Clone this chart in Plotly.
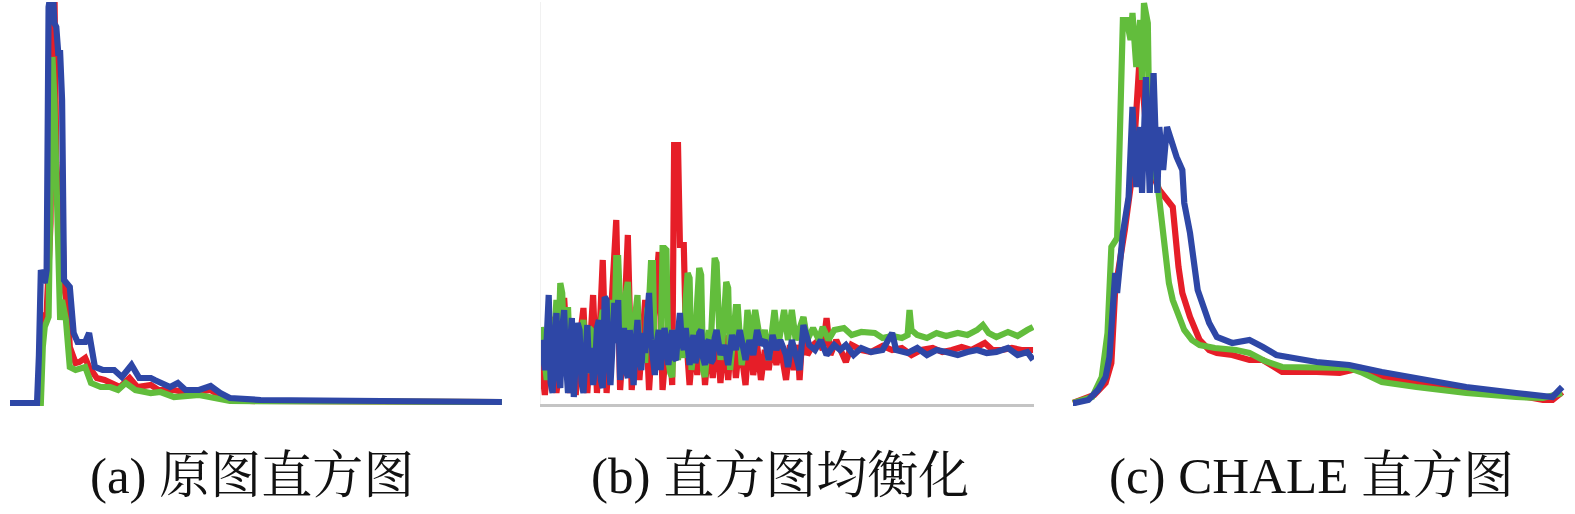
import plotly.graph_objects as go

# ---------------- data: (gray level, histogram height) ----------------
# (a) original histogram
a_red = [(0,0),(15,0),(16,40),(17,85),(19,90),(20,140),(21,180),(22,420),(23,420),(24,240),
         (25,206),(27,196),(28,116),(29,106),(30,90),(31,56),(34,40),(36,41),(39,45),(41,36),
         (45,25),(49,23),(53,20),(57,16),(62,25),(66,16),(73,18),(77,13),(85,13),(93,10),
         (104,13),(111,5),(124,2),(202,1),(255,1)]
a_green = [(0,0),(16,0),(17,56),(18,76),(20,86),(21,246),(22,346),(23,303),(24,203),(26,83),
           (27,103),(29,83),(31,36),(34,33),(39,36),(42,20),(47,16),(52,16),(56,13),(60,20),
           (65,13),(73,10),(78,11),(85,6),(98,8),(106,5),(114,2),(255,1)]
a_blue = [(0,0),(14,0),(15,48),(16,133),(18,120),(19,133),(20,396),(21,420),(22,420),(23,380),
          (24,376),(25,350),(26,350),(27,303),(28,123),(31,116),(33,70),(35,61),(39,61),(41,70),
          (44,36),(48,33),(54,33),(58,26),(63,38),(67,25),(73,25),(75,23),(78,20),(83,16),
          (87,20),(91,13),(98,13),(104,17),(109,10),(114,5),(130,3),(166,2),(202,1),(255,1)]

# (b) histogram equalization
b_red = [(0,43),(2,8),(5,73),(6,86),(8,10),(10,43),(12,105),(15,10),(17,58),(18,8),(20,63),(22,95),
         (24,10),(26,73),(27,108),(29,10),(31,103),(32,143),(34,10),(36,73),(39,183),(41,13),(43,73),
         (45,168),(47,13),(49,63),(51,23),(54,103),(56,13),(58,73),(61,151),(63,13),(66,83),(68,18),
         (69,258),(71,258),(72,158),(74,158),(75,73),(77,18),(79,63),(81,28),(83,83),(85,18),(87,63),
         (89,25),(91,70),(93,20),(95,68),(97,23),(99,73),(101,25),(103,63),(106,18),(108,73),(110,28),
         (112,58),(114,23),(116,53),(118,33),(120,63),(122,38),(124,58),(127,23),(129,58),(131,33),
         (133,58),(134,23),(136,85),(138,48),(141,58),(144,63),(146,53),(148,85),(150,48),(153,63),
         (156,48),(158,41),(161,58),(166,53),(171,51),(177,57),(182,53),(187,55),(192,48),(197,53),
         (203,55),(208,51),(213,53),(218,56),(223,53),(230,60),(234,53),(239,53),(244,55),(249,53),
         (255,53)]
b_green = [(0,76),(1,50),(2,40),(3,23),(4,45),(5,63),(6,40),(7,70),(8,103),(9,60),(10,120),(11,110),
           (12,50),(13,73),(14,96),(15,45),(16,33),(17,55),(18,63),(19,35),(20,43),(21,70),(22,83),
           (23,40),(24,30),(25,75),(26,73),(27,33),(28,73),(29,45),(30,53),(31,80),(32,93),(33,50),
           (34,63),(35,40),(36,85),(37,103),(38,60),(39,145),(40,145),(41,73),(42,45),(43,53),(44,110),
           (45,121),(46,63),(47,40),(48,73),(49,95),(50,108),(51,50),(52,43),(53,63),(54,40),(55,93),
           (56,100),(57,140),(58,140),(59,33),(60,45),(61,73),(62,40),(63,155),(64,155),(65,153),
           (66,43),(67,30),(68,26),(69,73),(70,60),(71,43),(72,80),(73,60),(74,45),(75,103),(76,130),
           (77,125),(78,33),(79,50),(80,63),(81,103),(82,135),(83,128),(84,33),(85,26),(86,45),(87,73),
           (88,60),(89,110),(90,145),(91,140),(92,73),(93,43),(94,60),(95,100),(96,121),(97,115),
           (98,33),(99,53),(100,70),(101,96),(102,96),(103,50),(104,38),(106,63),(107,93),(109,63),
           (111,93),(114,58),(116,73),(118,43),(120,83),(121,93),(123,58),(126,93),(128,63),(130,93),
           (132,63),(134,73),(136,86),(138,63),(141,75),(144,63),(146,76),(149,63),(152,73),(157,75),
           (161,68),(166,71),(173,70),(177,65),(182,67),(187,65),(190,68),(191,93),(192,73),(195,68),
           (200,65),(205,70),(210,67),(216,70),(221,68),(226,73),(229,78),(232,70),(236,66),(242,71),
           (247,67),(252,73),(255,76)]
b_blue = [(0,63),(1,40),(2,33),(3,66),(4,108),(5,20),(6,10),(7,60),(8,90),(9,30),(10,15),(11,75),
          (12,93),(13,40),(14,10),(15,55),(16,85),(17,6),(18,40),(19,80),(20,73),(21,20),(22,10),
          (23,60),(24,78),(25,30),(26,55),(27,18),(28,35),(29,75),(30,83),(31,23),(32,15),(33,106),
          (34,103),(35,40),(36,18),(37,55),(38,100),(39,60),(40,103),(41,23),(42,45),(43,75),(44,33),
          (45,25),(46,73),(47,40),(48,18),(49,60),(50,83),(51,45),(52,33),(53,70),(54,50),(55,85),
          (56,110),(57,63),(58,40),(59,28),(60,60),(61,73),(62,33),(63,50),(64,75),(65,63),(66,38),
          (67,55),(68,73),(69,45),(70,43),(71,70),(72,90),(73,60),(74,53),(75,75),(76,45),(77,38),
          (78,55),(79,68),(80,40),(81,48),(82,70),(83,73),(84,45),(85,38),(86,60),(87,63),(88,40),
          (89,43),(90,65),(91,73),(93,48),(95,58),(97,38),(99,68),(101,53),(103,73),(106,43),(108,63),
          (110,48),(112,73),(114,58),(116,63),(118,43),(120,68),(122,53),(124,63),(127,48),(128,36),
          (130,63),(132,48),(134,33),(136,78),(139,58),(142,53),(145,63),(148,48),(152,58),(155,53),
          (158,58),(162,48),(166,55),(171,51),(177,53),(182,70),(184,53),(190,50),(195,55),(200,48),
          (205,53),(210,51),(216,48),(221,51),(226,53),(231,50),(236,51),(242,55),(247,48),(252,51),
          (255,43)]

# (c) CHALE histogram
c_red = [(0,0),(11,8),(17,20),(20,40),(22,113),(24,136),(27,173),(31,230),(35,353),(37,300),
         (40,236),(45,213),(49,203),(52,196),(55,136),(57,110),(61,86),(66,63),(71,53),(75,50),
         (83,48),(92,43),(99,43),(109,31),(127,31),(139,30),(150,35),(161,26),(179,20),(205,13),
         (231,8),(245,3),(250,3),(255,11)]
c_green = [(0,0),(10,6),(15,26),(18,70),(20,156),(23,165),(26,383),(28,383),(30,363),(31,390),
           (33,336),(35,383),(36,323),(37,400),(39,380),(40,250),(44,220),(47,170),(50,120),
           (52,103),(55,86),(58,73),(62,63),(66,58),(74,55),(85,53),(92,50),(100,42),(109,36),
           (127,36),(144,35),(150,31),(161,21),(179,16),(205,10),(231,6),(245,5),(255,10)]
c_blue = [(0,0),(1,0),(8,3),(13,13),(17,26),(19,46),(22,130),(23,110),(26,170),(29,206),(31,296),
          (33,216),(35,276),(36,210),(38,326),(40,210),(42,330),(44,210),(45,276),(47,233),(49,276),
          (52,256),(54,246),(57,233),(58,200),(61,170),(65,113),(71,80),(75,66),(83,60),(92,63),
          (99,56),(106,48),(127,41),(144,38),(161,31),(179,25),(205,16),(231,10),(245,7),(250,6),
          (255,16)]

captions = ["(a) 原图直方图", "(b) 直方图均衡化", "(c) CHALE 直方图"]

RED, GREEN, BLUE = "#e61e28", "#62bd3c", "#2e47a6"
LW = 6.2

W, H = 1575, 514
fig = go.Figure()

panels = [
    (a_red, a_green, a_blue, "x", "y"),
    (b_red, b_green, b_blue, "x2", "y2"),
    (c_red, c_green, c_blue, "x3", "y3"),
]
for red, green, blue, xa, ya in panels:
    for series, col in ((red, RED), (green, GREEN), (blue, BLUE)):
        fig.add_trace(go.Scatter(
            x=[p[0] for p in series], y=[p[1] for p in series],
            mode="lines", line=dict(color=col, width=LW),
            xaxis=xa, yaxis=ya, showlegend=False, hoverinfo="skip"))

def px_x(p):
    return p / W

def px_y(p):
    return (H - p) / H

noax = dict(showgrid=False, zeroline=False, showticklabels=False, ticks="", showline=False)

fig.update_layout(
    width=W, height=H, margin=dict(l=0, r=0, t=0, b=0),
    paper_bgcolor="white", plot_bgcolor="white",
    # panel (a): gray levels 0..255 on px 10..502, height 0 at px 403
    xaxis=dict(domain=[px_x(4), px_x(508)], range=[-3.11, 258.16], **noax),
    yaxis=dict(domain=[px_y(408), px_y(2)], range=[-5, 401], **noax),
    # panel (b)
    xaxis2=dict(domain=[px_x(541), px_x(1034)], range=[0, 255.5], showgrid=False, zeroline=False,
                showticklabels=False, ticks="", showline=True, linecolor="#c4c4c4", linewidth=3),
    yaxis2=dict(domain=[px_y(404), px_y(2)], range=[-1, 401], showgrid=False, zeroline=False,
                showticklabels=False, ticks="", showline=True, linecolor="#f1f1f1", linewidth=1),
    # panel (c)
    xaxis3=dict(domain=[px_x(1067), px_x(1570)], range=[-3.13, 259.1], **noax),
    yaxis3=dict(domain=[px_y(408), px_y(2)], range=[-5, 401], **noax),
)
fig.update_layout(yaxis2_anchor="x2", xaxis2_anchor="y2", yaxis3_anchor="x3", xaxis3_anchor="y3")

for cx, txt in zip([252, 780, 1311], captions):
    fig.add_annotation(x=px_x(cx), y=px_y(476), xref="paper", yref="paper", text=txt,
                       showarrow=False, xanchor="center", yanchor="middle",
                       font=dict(family="Liberation Serif, Noto Serif CJK SC, Noto Sans CJK SC",
                                 size=51, color="#111111"))

fig.write_html("out.html", config={"displayModeBar": False},
               post_script="document.body.style.margin='0px';document.body.style.overflow='hidden';")
